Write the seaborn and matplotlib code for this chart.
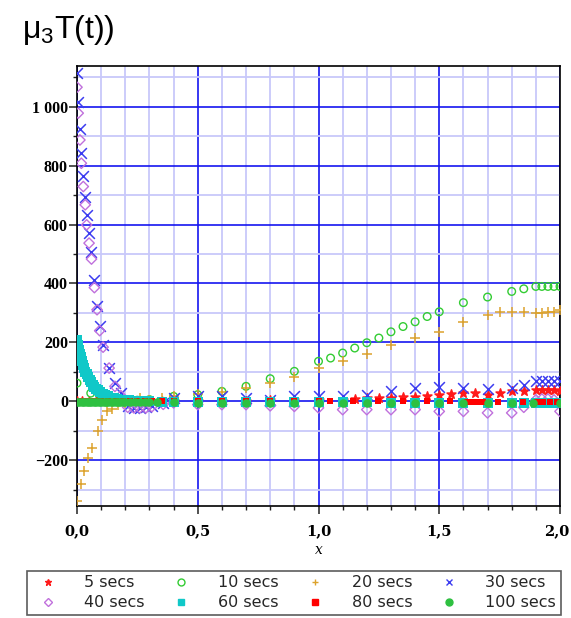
import matplotlib
matplotlib.use("Agg")
import matplotlib.pyplot as plt
from matplotlib.ticker import FixedLocator, FixedFormatter, MultipleLocator
from matplotlib.transforms import ScaledTranslation
from matplotlib.lines import Line2D
import seaborn as sns
import pandas as pd

# ---- data: mu3 T(t) for several elapsed times ----
labels = ["5 secs", "10 secs", "20 secs", "30 secs",
          "40 secs", "60 secs", "80 secs", "100 secs"]

x_5 = [0.0, 0.02, 0.05, 0.08, 0.12, 0.16, 0.2, 0.25, 0.3, 0.35, 0.4, 0.5, 0.6, 0.7, 0.8, 0.9,
       1.0, 1.1, 1.15, 1.2, 1.25, 1.3, 1.35, 1.4, 1.45, 1.5, 1.55, 1.6, 1.65, 1.7, 1.75, 1.8,
       1.85, 1.9, 1.925, 1.95, 1.975, 2.0]
y_5 = [0, 0, 1, 1, 1, 1, 0, 0, 0, 0, 1, 1, 2, 2, 3, 3,
       4, 5, 8, 10, 12, 13, 15, 15, 17, 23, 25, 28, 28, 23, 28, 34,
       34, 40, 40, 40, 40, 34]

x_10 = [0.0, 0.057, 0.1, 0.15, 0.2, 0.25, 0.3, 0.4, 0.5, 0.6, 0.7, 0.8, 0.9, 1.0, 1.05, 1.1,
        1.15, 1.2, 1.25, 1.3, 1.35, 1.4, 1.45, 1.5, 1.6, 1.7, 1.8, 1.85, 1.9, 1.925, 1.95,
        1.975, 2.0]
y_10 = [62, 28, 12, 6, 4, 4, 6, 17, 23, 34, 51, 77, 102, 136, 147, 164,
        181, 199, 215, 236, 254, 270, 288, 304, 335, 354, 373, 382, 390, 390, 390,
        390, 390]

x_20 = [0.0, 0.018, 0.029, 0.047, 0.061, 0.085, 0.104, 0.123, 0.144, 0.171, 0.2, 0.26, 0.3,
        0.35, 0.4, 0.5, 0.6, 0.7, 0.8, 0.9, 1.0, 1.1, 1.2, 1.3, 1.4, 1.5, 1.6, 1.7, 1.75,
        1.8, 1.85, 1.9, 1.925, 1.95, 1.975, 2.0]
y_20 = [-339, -282, -235, -192, -157, -100, -62, -34, -26, -11, -5, 12, 6,
        10, 17, 25, 31, 47, 62, 84, 113, 136, 162, 190, 215, 237, 270, 294, 302,
        302, 302, 301, 301, 302, 304, 311]

x_30 = [0.0, 0.005, 0.012, 0.018, 0.026, 0.034, 0.04, 0.05, 0.06, 0.072, 0.083, 0.094, 0.108,
        0.133, 0.157, 0.182, 0.21, 0.235, 0.26, 0.285, 0.31, 0.357, 0.4, 0.5, 0.6, 0.7, 0.8,
        0.9, 1.0, 1.1, 1.2, 1.3, 1.4, 1.5, 1.6, 1.7, 1.8, 1.85, 1.9, 1.925, 1.95, 1.975, 2.0]
y_30 = [1115, 1017, 923, 844, 765, 695, 633, 571, 508, 413, 323, 257, 192,
        113, 62, 28, -15, -22, -22, -20, -15, -5, 12, 17, 17, 12, 6,
        17, 17, 17, 23, 34, 45, 49, 45, 42, 45, 57, 68, 68, 68, 68, 68]

x_40 = [0.0, 0.005, 0.012, 0.018, 0.026, 0.034, 0.04, 0.05, 0.06, 0.072, 0.083, 0.094, 0.108,
        0.133, 0.157, 0.182, 0.21, 0.235, 0.26, 0.285, 0.31, 0.357, 0.4, 0.5, 0.6, 0.7, 0.8,
        0.9, 1.0, 1.1, 1.2, 1.3, 1.4, 1.5, 1.6, 1.7, 1.8, 1.85, 1.9, 1.925, 1.95, 1.975, 2.0]
y_40 = [1066, 978, 887, 808, 729, 667, 599, 537, 483, 386, 311, 240, 184,
        113, 51, 19, -20, -22, -22, -22, -18, -10, -5, -11, -11, -11, -15,
        -17, -22, -28, -28, -28, -28, -34, -34, -39, -39, -20, 5, 8, 8, 5, -34]

x_60 = [0.0, 0.004, 0.008, 0.012, 0.016, 0.02, 0.025, 0.03, 0.035, 0.04, 0.046, 0.052, 0.058,
        0.065, 0.072, 0.08, 0.088, 0.097, 0.106, 0.116, 0.127, 0.139, 0.152, 0.166, 0.181,
        0.197, 0.215, 0.235, 0.26, 0.3, 0.35, 0.4, 0.5, 0.6, 0.7, 0.8, 0.9, 1.0, 1.1, 1.2,
        1.3, 1.4, 1.5, 1.6, 1.7, 1.8, 1.85, 1.9, 1.925, 1.95, 1.975, 2.0]
y_60 = [209, 192, 176, 162, 149, 137, 124, 112, 101, 92, 82, 73, 65,
        57, 50, 43, 37, 31, 26, 21, 17, 13, 10, 8, 6,
        4, 3, 2, 1, 0, -1, -2, -2, -3, -3, -3, -3, -3, -3, -3,
        -4, -4, -4, -4, -4, -4, -5, -6, -6, -6, -6, -6]

x_80 = [0.0, 0.02, 0.04, 0.06, 0.08, 0.1, 0.13, 0.16, 0.19, 0.22, 0.25, 0.28, 0.31, 0.35,
        0.4, 0.5, 0.6, 0.7, 0.8, 0.9, 1.0, 1.048, 1.144, 1.248, 1.351, 1.448, 1.545, 1.613,
        1.636, 1.659, 1.682, 1.745, 1.848, 1.903, 1.93, 1.958, 1.986]
y_80 = [0, 0, 0, 0, 0, 0, 0, 0, 0, 0, 0, 0, 0, 0,
        0, 0, 0, 0, 0, 0, 0, 0, 0, 0, 0, 0, 0, -2,
        -2, -2, -2, -2, -2, -2, -2, -2, -2]

x_100 = [0.0, 0.01, 0.02, 0.03, 0.04, 0.05, 0.06, 0.07, 0.08, 0.09, 0.1, 0.11, 0.12, 0.13,
         0.14, 0.15, 0.16, 0.17, 0.18, 0.19, 0.2, 0.22, 0.24, 0.26, 0.28, 0.3, 0.33, 0.4,
         0.5, 0.6, 0.7, 0.8, 0.9, 1.0, 1.1, 1.2, 1.3, 1.4, 1.5, 1.6, 1.7, 1.8, 1.89, 2.0]
y_100 = [-3, -3, -3, -3, -3, -3, -3, -3, -3, -3, -3, -3, -3, -3,
         -3, -3, -3, -3, -3, -3, -3, -3, -3, -3, -3, -3, -3, -3,
         -4, -4, -5, -5, -5, -5, -5, -5, -5, -5, -5, -5, -5, -5, -5, -5]

x_ticks = [0.0, 0.5, 1.0, 1.5, 2.0]
x_tick_labels = ["0,0", "0,5", "1,0", "1,5", "2,0"]
y_ticks = [-200, 0, 200, 400, 600, 800, 1000]
y_tick_labels = ["\u2212200", "0", "200", "400", "600", "800", "1 000"]

series_x = [x_5, x_10, x_20, x_30, x_40, x_60, x_80, x_100]
series_y = [y_5, y_10, y_20, y_30, y_40, y_60, y_80, y_100]

# ---- styling of each series ----
colors = ["#ff1a1a", "#33cc33", "#dca22c", "#3c3cf0",
          "#c070dc", "#10c8c8", "#ff0000", "#2ec040"]
markers = ["*", "o", "+", "x", "D", "s", "s", "o"]
filled = [True, False, True, True, False, True, True, True]
sizes = [45, 30, 60, 60, 28, 60, 20, 38]

frames = [pd.DataFrame({"x": xs, "y": ys, "series": lab})
          for xs, ys, lab in zip(series_x, series_y, labels)]

sns.set_theme(style="white")
plt.rcParams["font.family"] = ["DejaVu Sans"]
plt.rcParams["mathtext.fontset"] = "custom"
plt.rcParams["mathtext.rm"] = "Liberation Sans"
plt.rcParams["mathtext.default"] = "regular"

fig = plt.figure(figsize=(5.71, 6.18), dpi=100)
ax = fig.add_axes([77 / 571, 1 - 506 / 618, (560 - 77) / 571, (506 - 66) / 618])

# grid: light minor lines, blue major lines
ax.set_axisbelow(True)
ax.xaxis.set_minor_locator(MultipleLocator(0.1))
ax.yaxis.set_minor_locator(MultipleLocator(100))
ax.grid(which="minor", color="#c8c8fa", linewidth=1.3)
ax.grid(which="major", color="#1515f0", linewidth=1.2)

handles = []
for df, c, m, f, s in zip(frames, colors, markers, filled, sizes):
    if f:
        sns.scatterplot(data=df, x="x", y="y", ax=ax, marker=m, color=c, s=s,
                        linewidth=1.1 if m in "x+*" else 0, edgecolor=c, legend=False,
                        zorder=3)
    else:
        sns.scatterplot(data=df, x="x", y="y", ax=ax, marker=m, color=c, s=s,
                        facecolor="none", edgecolor=c, linewidth=1.0, legend=False,
                        zorder=3)
    handles.append(Line2D([], [], linestyle="none", marker=m, color=c,
                          markerfacecolor=c if f else "none", markeredgecolor=c,
                          markersize=5 if m in "x+*o" else (4.2 if m == "D" else 4),
                          markeredgewidth=1.0))

ax.set_xlim(0, 2.0)
ax.set_ylim(-355, 1138)

ax.xaxis.set_major_locator(FixedLocator(x_ticks))
ax.xaxis.set_major_formatter(FixedFormatter(x_tick_labels))
ax.yaxis.set_major_locator(FixedLocator(y_ticks))
ax.yaxis.set_major_formatter(FixedFormatter(y_tick_labels))

for sp in ax.spines.values():
    sp.set_color("black")
    sp.set_linewidth(1.2)

ax.tick_params(which="major", direction="out", length=6, width=1.1, color="#222222",
               bottom=True, left=True)
ax.tick_params(which="minor", direction="out", length=3, width=1.0, color="#222222",
               bottom=True, left=True)
ax.tick_params(axis="y", which="major", pad=0.5)
ax.tick_params(axis="x", which="major", pad=7)
for lab in ax.get_yticklabels():
    lab.set_fontfamily("Liberation Serif")
    lab.set_fontweight("bold")
    lab.set_fontsize(11.5)
    lab.set_color("black")
xlabs = ax.get_xticklabels()
for lab in xlabs:
    lab.set_fontfamily("DejaVu Serif")
    lab.set_fontweight("bold")
    lab.set_fontsize(10.5)
    lab.set_color("black")
# keep the rightmost x label inside the canvas
xlabs[-1].set_transform(xlabs[-1].get_transform()
                        + ScaledTranslation(-3 / 100, 0, fig.dpi_scale_trans))

ax.set_xlabel("x", fontstyle="italic", family="DejaVu Serif", fontsize=10, color="black")
ax.xaxis.set_label_coords(0.5, -0.083)
ax.set_ylabel("")

fig.text(22 / 571, 1 - 38 / 618, "\u03bc$_3$T(t))", family="Liberation Sans",
         fontsize=23, color="black", ha="left", va="baseline")

# legend: two rows of four, in reading order
order = [0, 4, 1, 5, 2, 6, 3, 7]
leg = fig.legend([handles[i] for i in order], [labels[i] for i in order],
                 loc="lower left", bbox_to_anchor=(27 / 571, 3 / 618, 534 / 571, 50 / 618),
                 bbox_transform=fig.transFigure, mode="expand", ncol=4,
                 frameon=True, fancybox=False, borderaxespad=0, borderpad=0.3,
                 handletextpad=1.3, labelspacing=0.3,
                 prop={"family": "DejaVu Sans", "size": 11.5})
leg.get_frame().set_edgecolor("#333333")
leg.get_frame().set_linewidth(1.2)

fig.savefig("out.png", dpi=100)
